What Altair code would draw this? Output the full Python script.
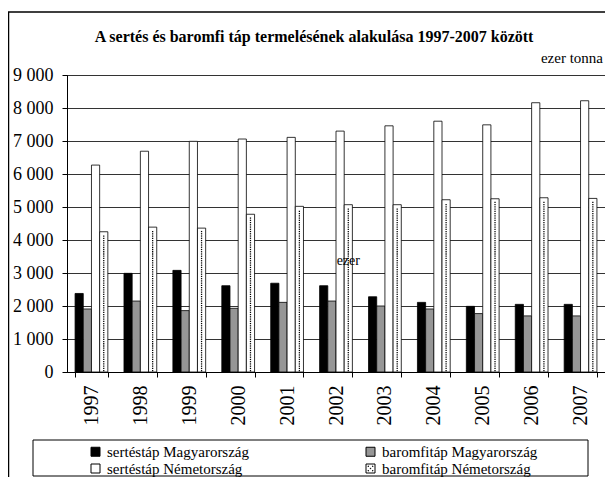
import altair as alt
import pandas as pd

years = ["1997", "1998", "1999", "2000", "2001", "2002", "2003", "2004", "2005", "2006", "2007"]
series = ["sertéstáp Magyarország", "baromfitáp  Magyarország", "sertéstáp Németország", "baromfitáp Németország"]
sertes_hu = [2380, 2990, 3080, 2615, 2690, 2615, 2280, 2110, 1990, 2050, 2050]
baromfi_hu = [1910, 2150, 1860, 1930, 2110, 2150, 2000, 1910, 1770, 1700, 1700]
sertes_de = [6270, 6690, 6990, 7060, 7110, 7300, 7460, 7600, 7490, 8160, 8220]
baromfi_de = [4250, 4390, 4360, 4780, 5020, 5070, 5070, 5220, 5250, 5280, 5260]
colors = ["#000000", "#969696", "#ffffff", "#ffffff"]

title = "A sertés és baromfi táp termelésének alakulása 1997-2007 között"
unit = "ezer tonna"
note_text = "ezer"
note_year = ["2002"]
note_value = [3360]

FONT = "Liberation Serif"

rows = []
for s, vals in zip(series, [sertes_hu, baromfi_hu, sertes_de, baromfi_de]):
    for y, v in zip(years, vals):
        rows.append({"year": y, "series": s, "value": v})
df = pd.DataFrame(rows)

x_axis = alt.Axis(title=None, labelAngle=-90, labelFont=FONT, labelFontSize=20,
                  labelColor="black", labelPadding=8, tickBand="extent",
                  tickColor="black", tickSize=5, domainColor="black",
                  grid=False, labelOverlap=False)
x_scale = alt.Scale(paddingInner=0.33, paddingOuter=0.165)
y_axis = alt.Axis(title=None, values=list(range(0, 9001, 1000)),
                  labelExpr="replace(format(datum.value, ','), ',', ' ')",
                  labelFont=FONT, labelFontSize=18, labelColor="black",
                  labelPadding=9, tickColor="black", tickSize=5,
                  labelOverlap=False, labelBound=False, labelFlush=False,
                  domainColor="black", grid=True, gridColor="#333333",
                  gridWidth=1)
y_scale = alt.Scale(domain=[0, 9000], nice=False)


def xe():
    return alt.X("year:N", sort=years, scale=x_scale, axis=x_axis)


def ye(field):
    return alt.Y(field, scale=y_scale, axis=y_axis)


xoff_enc = alt.XOffset("series:N", scale=alt.Scale(domain=series, paddingInner=0, paddingOuter=0))

dotted_path = ("M-1,-1H1V1H-1Z"
               "M-0.56,-0.56h0.12v0.12h-0.12Z"
               "M0.44,-0.56h0.12v0.12h-0.12Z"
               "M-0.06,-0.06h0.12v0.12h-0.12Z"
               "M-0.56,0.44h0.12v0.12h-0.12Z"
               "M0.44,0.44h0.12v0.12h-0.12Z")

# legend order (filled column by column): left column sertéstáp, right column baromfitáp
legend_order = [series[0], series[2], series[1], series[3]]
legend_colors = [colors[0], colors[2], colors[1], colors[3]]
legend_shapes = ["square", "square", "square", dotted_path]

legend = alt.Legend(
    title=None, orient="none", legendX=21, legendY=369,
    columns=2, columnPadding=113, rowPadding=1,
    symbolSize=81, symbolStrokeColor="black",
    symbolStrokeWidth=1, labelFont=FONT, labelFontSize=15,
    labelColor="black", labelOffset=4, padding=0, labelLimit=400)

fill_enc = alt.Fill("series:N", scale=alt.Scale(domain=legend_order, range=legend_colors), legend=legend)

bars = alt.Chart(df).mark_bar(stroke="black", strokeWidth=0.8).encode(
    x=xe(), xOffset=xoff_enc, y=ye("value:Q"), fill=fill_enc,
)

legend_pts = alt.Chart(df).transform_filter("false").mark_point(
    filled=True, size=81, stroke="black", strokeWidth=1, opacity=1).encode(
    x=xe(), xOffset=xoff_enc, y=ye("value:Q"),
    fill=fill_enc,
    shape=alt.Shape("series:N", scale=alt.Scale(domain=legend_order, range=legend_shapes), legend=legend),
)

dots_base = alt.Chart(df).transform_filter(
    alt.datum.series == "baromfitáp Németország"
).transform_calculate(
    seq="sequence(0, floor((datum.value - 60) / 68))"
).transform_flatten(["seq"], as_=["i"]).transform_calculate(
    yy="40 + datum.i * 68", col="datum.i % 2"
)
dots_l = dots_base.transform_filter("datum.col == 0").mark_square(
    size=1.6, color="black", opacity=1, dx=-2).encode(
    x=xe(), xOffset=xoff_enc, y=ye("yy:Q"))
dots_r = dots_base.transform_filter("datum.col == 1").mark_square(
    size=1.6, color="black", opacity=1, dx=2).encode(
    x=xe(), xOffset=xoff_enc, y=ye("yy:Q"))

note_df = pd.DataFrame({"year": note_year, "series": ["baromfitáp Németország"], "value": note_value})
note = alt.Chart(note_df).mark_text(text=note_text, font=FONT, fontSize=14, color="black").encode(
    x=xe(), xOffset=xoff_enc, y=ye("value:Q"))

one = pd.DataFrame({"a": [0]})
title_txt = alt.Chart(one).mark_text(text=title, font=FONT, fontSize=16, fontWeight="bold",
                                     color="black", align="center", baseline="middle").encode(
    x=alt.value(247), y=alt.value(-38))
unit_txt = alt.Chart(one).mark_text(text=unit, font=FONT, fontSize=15, color="black",
                                    align="right", baseline="middle").encode(
    x=alt.value(536), y=alt.value(-17))
frame = alt.Chart(one).mark_rect(fillOpacity=0, stroke="black", strokeWidth=1.5).encode(
    x=alt.value(-58.5), x2=alt.value(560), y=alt.value(-63), y2=alt.value(430))
legend_box = alt.Chart(one).mark_rect(fillOpacity=0, stroke="black", strokeWidth=1).encode(
    x=alt.value(-34), x2=alt.value(521), y=alt.value(365), y2=alt.value(401))

chart = alt.layer(frame, legend_box, bars, legend_pts, dots_l, dots_r, note,
                  title_txt, unit_txt).properties(
    width=538, height=297,
    autosize=alt.AutoSizeParams(type="none"),
    padding={"left": 59, "top": 67, "right": 0, "bottom": 105},
).configure_view(stroke="black", strokeWidth=1
).configure_axis(labelFont=FONT, labelColor="black"
).configure_legend(labelFont=FONT, labelColor="black"
).configure_text(font=FONT)

chart.save("out.html", embed_options={"renderer": "svg", "actions": False})
